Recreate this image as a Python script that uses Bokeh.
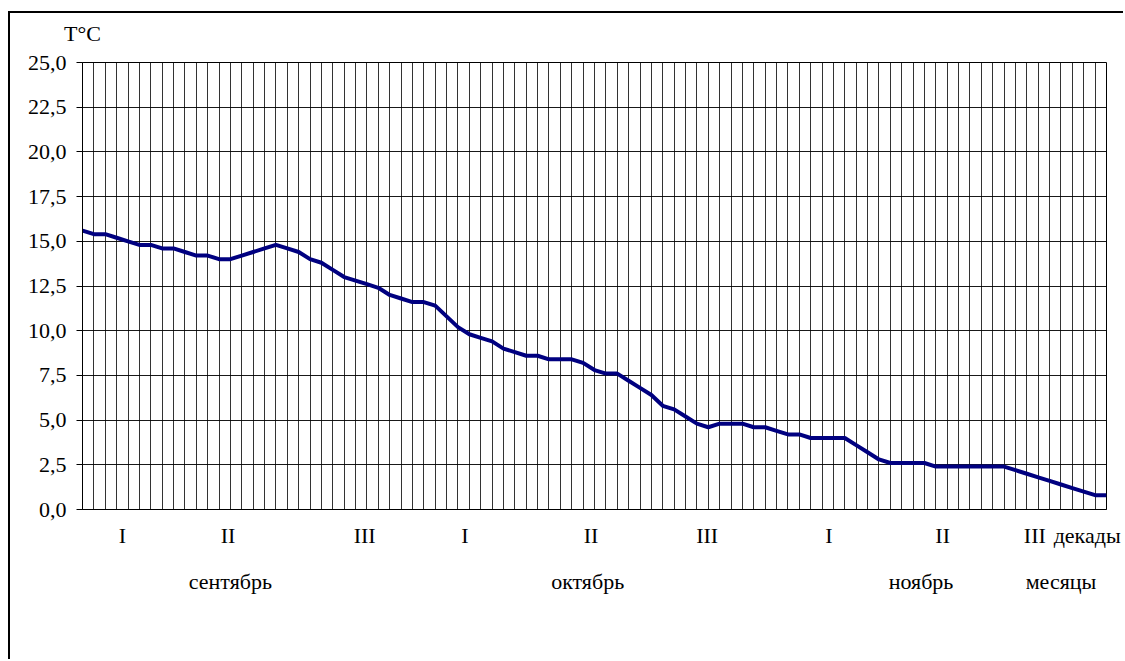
from bokeh.plotting import figure
from bokeh.models import (Range1d, FixedTicker, CustomJSTickFormatter, LinearAxis)
from bokeh.embed import file_html
from bokeh.resources import INLINE

# ---- data ----
days = list(range(91))  # 1 Sep .. 30 Nov (day index)
temps = [15.6, 15.4, 15.4, 15.2, 15.0, 14.8, 14.8, 14.6, 14.6, 14.4,
         14.2, 14.2, 14.0, 14.0, 14.2, 14.4, 14.6, 14.8, 14.6, 14.4,
         14.0, 13.8, 13.4, 13.0, 12.8, 12.6, 12.4, 12.0, 11.8, 11.6,
         11.6, 11.4, 10.8, 10.2, 9.8, 9.6, 9.4, 9.0, 8.8, 8.6,
         8.6, 8.4, 8.4, 8.4, 8.2, 7.8, 7.6, 7.6, 7.2, 6.8,
         6.4, 5.8, 5.6, 5.2, 4.8, 4.6, 4.8, 4.8, 4.8, 4.6,
         4.6, 4.4, 4.2, 4.2, 4.0, 4.0, 4.0, 4.0, 3.6, 3.2,
         2.8, 2.6, 2.6, 2.6, 2.6, 2.4, 2.4, 2.4, 2.4, 2.4,
         2.4, 2.4, 2.2, 2.0, 1.8, 1.6, 1.4, 1.2, 1.0, 0.8,
         0.8]
y_ticks = [0, 2.5, 5, 7.5, 10, 12.5, 15, 17.5, 20, 22.5, 25]
decade_pos = [3.5, 12.8, 24.8, 33.6, 44.7, 54.9, 65.6, 75.6, 83.7, 88.3]
decade_labels = ["I", "II", "III", "I", "II", "III", "I", "II", "III", "декады"]
month_pos = [13.0, 44.4, 73.7, 86.0]
month_labels = ["сентябрь", "октябрь", "ноябрь", "месяцы"]
title_pos = [0]
title_labels = ["T°C"]

FONT = "Liberation Serif"
FS = "22px"

p = figure(width=1115, height=648, output_backend="svg", toolbar_location=None,
           x_range=Range1d(0, 90), y_range=Range1d(0, 25),
           min_border_left=72, min_border_right=19, min_border_top=49, min_border_bottom=152,
           background_fill_color="white", border_fill_color="white")
p.margin = (11, 0, 0, 8)
p.styles = {"border-top": "2px solid black", "border-left": "2px solid black",
            "border-right": "none", "border-bottom": "none"}

p.outline_line_color = "black"
p.outline_line_width = 1


def label_axis(pos, labels, standoff):
    ax = LinearAxis(ticker=FixedTicker(ticks=pos),
                    formatter=CustomJSTickFormatter(args=dict(pos=pos, lab=labels),
                                                    code="const i = pos.indexOf(tick); return i >= 0 ? lab[i] : '';"))
    ax.axis_line_color = None
    ax.major_tick_out = 0
    ax.major_tick_in = 0
    ax.minor_tick_out = 0
    ax.minor_tick_in = 0
    ax.major_label_text_font = FONT
    ax.major_label_text_font_size = FS
    ax.major_label_text_color = "black"
    ax.major_label_standoff = standoff
    return ax


# y axis
ya = p.yaxis[0]
ya.ticker = FixedTicker(ticks=y_ticks)
ya.formatter = CustomJSTickFormatter(code="return tick.toFixed(1).replace('.', ',');")
ya.major_tick_out = 6
ya.major_tick_in = 0
ya.minor_tick_out = 0
ya.minor_tick_in = 0
ya.axis_line_color = "black"
ya.major_tick_line_color = "black"
ya.major_label_text_font = FONT
ya.major_label_text_font_size = FS
ya.major_label_text_color = "black"
ya.major_label_standoff = 10

# x axis (decades)
xa = p.xaxis[0]
xa.ticker = FixedTicker(ticks=decade_pos)
xa.formatter = CustomJSTickFormatter(args=dict(pos=decade_pos, lab=decade_labels),
                                     code="const i = pos.indexOf(tick); return i >= 0 ? lab[i] : '';")
xa.major_tick_out = 0
xa.major_tick_in = 0
xa.minor_tick_out = 0
xa.minor_tick_in = 0
xa.axis_line_color = "black"
xa.major_label_text_font = FONT
xa.major_label_text_font_size = FS
xa.major_label_text_color = "black"
xa.major_label_standoff = 13

# second x axis (months)
p.add_layout(label_axis(month_pos, month_labels, 18), "below")

# caption of the temperature axis, above the frame
p.add_layout(label_axis(title_pos, title_labels, 17), "above")

# grids
p.xgrid[0].ticker = FixedTicker(ticks=days)
p.xgrid[0].grid_line_color = "black"
p.xgrid[0].grid_line_alpha = 0.8
p.xgrid[0].grid_line_width = 1
p.ygrid[0].ticker = FixedTicker(ticks=y_ticks)
p.ygrid[0].grid_line_color = "black"
p.ygrid[0].grid_line_alpha = 0.9
p.ygrid[0].grid_line_width = 1

p.line(days, temps, line_color="#000080", line_width=4, line_join="round")

open("out.html", "w").write(file_html(p, INLINE))
